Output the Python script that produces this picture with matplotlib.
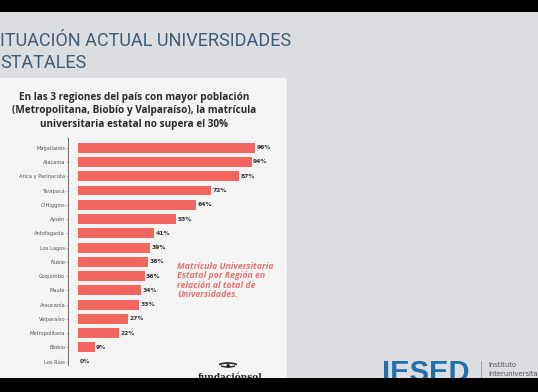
import matplotlib.pyplot as plt
from matplotlib.patches import Rectangle, Arc

regions = ["Magallanes", "Atacama", "Arica y Parinacota", "Tarapacá", "O'Higgins",
           "Aysén", "Antofagasta", "Los Lagos", "Ñuble", "Coquimbo", "Maule",
           "Araucanía", "Valparaíso", "Metropolitana", "Biobío", "Los Ríos"]
share = [96, 94, 87, 72, 64, 53, 41, 39, 38, 36, 34, 33, 27, 22, 9, 0]

W, H = 538, 392


def fx(x):
    return x / W


def fy(y):
    return 1 - y / H


fig = plt.figure(figsize=(W / 100, H / 100), dpi=100)
fig.patch.set_facecolor("#dcdde0")

# white panel behind the chart
fig.add_artist(Rectangle((0, fy(378)), fx(287), fy(78) - fy(378),
                         transform=fig.transFigure, facecolor="#f4f4f4",
                         edgecolor="none", zorder=0))

# slide title
fig.text(fx(0), fy(41), "ITUACIÓN ACTUAL UNIVERSIDADES", family="Roboto",
         fontsize=13, color="#3e5b78", va="center", ha="left")
fig.text(fx(0), fy(63), "STATALES", family="Roboto",
         fontsize=13, color="#3e5b78", va="center", ha="left")

# chart title
fig.text(fx(134), fy(111),
         "En las 3 regiones del país con mayor población\n"
         "(Metropolitana, Biobío y Valparaíso), la matrícula\n"
         "universitaria estatal no supera el 30%",
         family="Open Sans", fontweight="bold", fontsize=7.2, color="#2a2a2a",
         ha="center", va="center", linespacing=1.3)

# bar chart
ax = fig.add_axes([fx(68), fy(365), fx(272) - fx(68), fy(138) - fy(365)])
ax.set_facecolor("none")
y = list(range(len(regions)))
ax.barh(y, share, height=0.7, color="#f2665f")
for yi, v in zip(y, share):
    ax.text(v + 0.8, yi, f"{v}%", va="center", ha="left", fontsize=4.3,
            fontweight="bold", color="#333333")
ax.set_xlim(-5.4, 105)
ax.set_ylim(len(regions) - 0.77, -0.68)
ax.set_yticks(y)
ax.set_yticklabels(regions, fontsize=3.7, color="#555555")
ax.tick_params(axis="y", length=1.2, width=0.4, color="#888888", pad=0.8)
ax.set_xticks([])
for s in ["top", "right", "bottom"]:
    ax.spines[s].set_visible(False)
ax.spines["left"].set_color("#777777")
ax.spines["left"].set_linewidth(0.8)

# annotation
fig.text(fx(177), fy(262),
         "Matrícula Universitaria\nEstatal por Región en\nrelación al total de\nUniversidades.",
         family="Open Sans", fontstyle="italic", fontweight="bold", fontsize=6.3,
         color="#e27570", ha="left", va="top", linespacing=1.05)

# footer
fig.text(fx(15), fy(382), "www.fundacionsol.cl", fontsize=4.5,
         fontweight="bold", color="#333333", ha="left", va="center")
fig.text(fx(88), fy(382), "contacto@fundacionsol.cl", fontsize=4.5,
         fontweight="bold", color="#333333", ha="left", va="center")
fig.add_artist(Arc((fx(228), fy(367)), fx(22), 8 / H, theta1=20, theta2=160,
                   transform=fig.transFigure, color="#222222", lw=1.2))
fig.add_artist(Arc((fx(228), fy(364)), fx(18), 6 / H, theta1=200, theta2=340,
                   transform=fig.transFigure, color="#222222", lw=1.0))
fig.text(fx(228), fy(365), "●", fontsize=3.5, color="#222222",
         ha="center", va="center")
fig.text(fx(230), fy(377), "fundaciónsol", family="DejaVu Serif",
         fontweight="bold", fontsize=6.5, color="#222222",
         ha="center", va="center")

fig.text(fx(426), fy(381), "IESED", family="Liberation Sans", fontweight="bold",
         fontsize=21, color="#2270a8", ha="center", va="baseline")
fig.add_artist(plt.Line2D([fx(481), fx(481)], [fy(378), fy(361)],
                          transform=fig.transFigure, color="#999999", lw=0.6))
fig.text(fx(488), fy(365), "Instituto", fontsize=4.9, color="#555555",
         ha="left", va="center")
fig.text(fx(488), fy(374), "Interuniversita", fontsize=4.9, color="#555555",
         ha="left", va="center")

# black letterbox bars
fig.add_artist(Rectangle((0, fy(12)), 1, 12 / H, transform=fig.transFigure,
                         facecolor="black", edgecolor="none", zorder=10))
fig.add_artist(Rectangle((0, 0), 1, fy(378), transform=fig.transFigure,
                         facecolor="black", edgecolor="none", zorder=10))

fig.savefig("out.png", dpi=100)
